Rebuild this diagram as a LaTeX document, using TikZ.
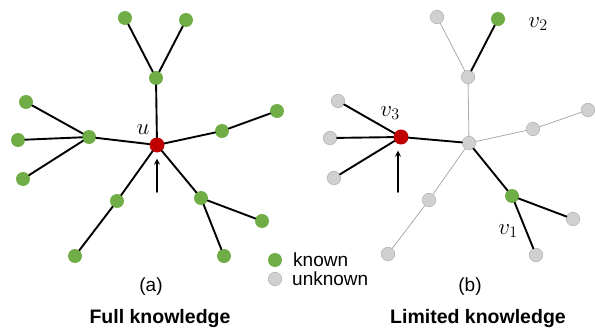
\RequirePackage{fix-cm}
\documentclass[tikz,border=0pt]{standalone}
\usepackage{fontspec}
\setmainfont{Liberation Sans}
\definecolor{knowngreen}{HTML}{70AD47}
\definecolor{seedred}{HTML}{C00000}
\definecolor{unkfill}{HTML}{D0D0D0}
\definecolor{unkline}{HTML}{B4B4B4}
\definecolor{faintedge}{HTML}{ABABAB}
\tikzset{
  kn/.style={circle,fill=knowngreen,minimum size=14pt,inner sep=0pt},
  unk/.style={circle,fill=unkfill,draw=unkline,line width=0.6pt,minimum size=13.5pt,inner sep=0pt},
  seed/.style={circle,fill=seedred,minimum size=15pt,inner sep=0pt},
  edge/.style={line width=1.9pt},
  faint/.style={line width=0.8pt,draw=faintedge},
  lbl/.style={inner sep=0pt,font=\fontsize{19}{22}\selectfont},
  mlbl/.style={inner sep=0pt,font=\fontsize{23}{26}\selectfont}
}
\begin{document}
\begin{tikzpicture}[x=1pt,y=-1pt,line join=round,line cap=round,>=stealth]
\useasboundingbox (0,0) rectangle (595,329);
% (a) full knowledge
\begin{scope}
  \node[seed] (u) at (157,145) {};
  \node[kn] (t) at (156,78) {};
  \node[kn] (tl) at (125,18) {};
  \node[kn] (tr) at (186,20) {};
  \node[kn] (l) at (89,137) {};
  \node[kn] (l1) at (26,102) {};
  \node[kn] (l2) at (18,140) {};
  \node[kn] (l3) at (23,179) {};
  \node[kn] (r) at (222,131) {};
  \node[kn] (r1) at (277,111) {};
  \node[kn] (bl) at (117,201) {};
  \node[kn] (bl1) at (75,256) {};
  \node[kn] (br) at (201,198) {};
  \node[kn] (br1) at (262,221) {};
  \node[kn] (br2) at (224,256) {};
  \foreach \a/\b in {u/t,t/tl,t/tr,u/l,l/l1,l/l2,l/l3,u/r,r/r1,u/bl,bl/bl1,u/br,br/br1,br/br2}
    \draw[edge] (\a) -- (\b);
  \coordinate (ua) at (157,192);
  \draw[->,line width=1.6pt,shorten >=6pt] (ua) -- (u);
  \node[mlbl] (ulab) at (143,130) {$u$};
  \node[lbl] (capa) at (151,287) {(a)};
  \node[lbl,font=\fontsize{19.5}{22}\selectfont\bfseries] (tita) at (160,318) {Full knowledge};
\end{scope}
% legend
\node[kn] (lgk) at (275,260) {};
\node[unk] (lgu) at (275,279) {};
\node[lbl,anchor=west] (lgkt) at (293,260) {known};
\node[lbl,anchor=west] (lgut) at (292,279) {unknown};
% (b) limited knowledge
\begin{scope}[xshift=312pt,name prefix=b-]
  \node[unk] (u) at (157,143) {};
  \node[unk] (t) at (156,77) {};
  \node[unk] (tl) at (125,17) {};
  \node[kn] (tr) at (186,19) {};
  \node[seed] (l) at (89,137) {};
  \node[unk] (l1) at (26,101) {};
  \node[unk] (l2) at (18,138) {};
  \node[unk] (l3) at (22,178) {};
  \node[unk] (r) at (221,129) {};
  \node[unk] (r1) at (276,110) {};
  \node[unk] (bl) at (117,200) {};
  \node[unk] (bl1) at (76,254) {};
  \node[kn] (br) at (200,196) {};
  \node[unk] (br1) at (261,219) {};
  \node[unk] (br2) at (224,255) {};
  \foreach \a/\b in {u/t,t/tl,u/r,r/r1,u/bl,bl/bl1}
    \draw[faint] (\a) -- (\b);
  \foreach \a/\b in {t/tr,u/l,l/l1,l/l2,l/l3,u/br,br/br1,br/br2}
    \draw[edge] (\a) -- (\b);
  \coordinate (la) at (86,192);
  \draw[->,line width=1.6pt,shorten >=6pt] (la) -- (la |- l.south);
  \node[mlbl] (v3lab) at (78,113) {$v_3$};
  \node[mlbl] (v2lab) at (226,24) {$v_2$};
  \node[mlbl] (v1lab) at (196,231) {$v_1$};
  \node[lbl] (capb) at (158,287) {(b)};
  \node[lbl,font=\fontsize{19.5}{22}\selectfont\bfseries] (titb) at (166,318) {Limited knowledge};
\end{scope}
\end{tikzpicture}
\end{document}
